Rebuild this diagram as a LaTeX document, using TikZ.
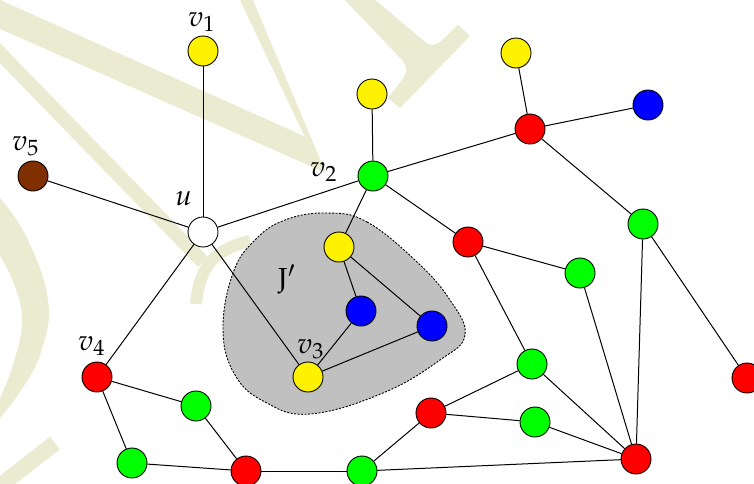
\documentclass[tikz,border=0pt]{standalone}
\usepackage{mathpazo}
\definecolor{wm}{RGB}{235,235,210}
\definecolor{brn}{RGB}{128,48,0}
\definecolor{blobgray}{RGB}{192,192,192}
\begin{document}
\begin{tikzpicture}[x=1pt,y=-1pt,
  vtx/.style={circle,draw=black,line width=0.9pt,minimum size=30pt,inner sep=0pt},
  vy/.style={vtx,fill=yellow},
  vg/.style={vtx,fill=green},
  vr/.style={vtx,fill=red},
  vb/.style={vtx,fill=blue},
  vw/.style={vtx,fill=white},
  vbr/.style={vtx,fill=brn},
  lbl/.style={inner sep=0pt,anchor=base west,font=\fontsize{29}{35}\selectfont},
  edge/.style={line width=1pt,black}]
\useasboundingbox (0,0) rectangle (754,483);
\begin{scope}
\clip (0,0) rectangle (754,483);
% watermark
\fill[wm] (-2,-1) -- (-2,28) -- (326,173) -- (306,137) -- cycle;
\fill[wm] (239,-2) -- (252,-2) -- (326,173) -- (311,150) -- cycle;
\draw[wm,line width=14pt] (-8,45) -- (203,262);
\draw[wm,line width=12pt] (250,241) .. controls (214,249) and (199,268) .. (196,304);
\fill[wm] (343,-2) -- (373,-2) -- (425,42) .. controls (430,46) and (434,46) .. (440,42)
  -- (458,25) -- (470,36) -- (400,108) -- (388,98) -- (402,80) .. controls (408,72) and (407,66) .. (402,60) -- cycle;
\fill[wm] plot[smooth,tension=0.7] coordinates {(-2,196) (26,236) (48,300) (41,352) (20,392) (-2,420)}
  -- plot[smooth,tension=0.7] coordinates {(-2,402) (12,368) (22,322) (14,284) (-2,252)} -- cycle;
\draw[wm,line width=16pt] (-8,492) -- (55,443);
\end{scope}
% J' region
\draw[fill=blobgray,line width=0.9pt,dash pattern=on 2pt off 1.5pt]
  plot[smooth cycle,tension=0.7] coordinates {(327,213) (367,222) (417,262) (450,300) (465,335) (440,360) (383,393) (310,414) (265,402) (235,375) (223,330) (233,273) (255,240) (285,220)};
% vertices
\node[vy] (v1) at (203,51) {};
\node[vbr] (v5) at (33,176) {};
\node[vw] (u) at (203,232) {};
\node[vg] (v2) at (373,176) {};
\node[vy] (y2) at (372,94) {};
\node[vy] (y3) at (516,53) {};
\node[vr] (r1) at (530,129) {};
\node[vb] (b1) at (648,105) {};
\node[vg] (g1) at (643,224) {};
\node[vr] (r2) at (468,242) {};
\node[vg] (g2) at (580,273) {};
\node[vy] (y4) at (339,247) {};
\node[vb] (b2) at (361,311) {};
\node[vb] (b3) at (432,326) {};
\node[vy] (v3) at (308,377) {};
\node[vr] (v4) at (97,377) {};
\node[vg] (g3) at (196,406) {};
\node[vg] (g4) at (132,463) {};
\node[vr] (r3) at (246,471) {};
\node[vg] (g5) at (362,471) {};
\node[vr] (r4) at (431,413) {};
\node[vg] (g6) at (532,364) {};
\node[vg] (g7) at (535,422) {};
\node[vr] (r5) at (636,459) {};
\node[vr] (r6) at (747,378) {};
% edges
\draw[edge] (u) -- (v1);
\draw[edge] (u) -- (v5);
\draw[edge] (u) -- (v2);
\draw[edge] (u) -- (v4);
\draw[edge] (u) -- (v3);
\draw[edge] (v2) -- (y2);
\draw[edge] (v2) -- (r1);
\draw[edge] (v2) -- (r2);
\draw[edge] (v2) -- (y4);
\draw[edge] (r1) -- (y3);
\draw[edge] (r1) -- (b1);
\draw[edge] (r1) -- (g1);
\draw[edge] (g1) -- (r6);
\draw[edge] (g1) -- (r5);
\draw[edge] (r2) -- (g2);
\draw[edge] (r2) -- (g6);
\draw[edge] (g2) -- (r5);
\draw[edge] (y4) -- (b2);
\draw[edge] (y4) -- (b3);
\draw[edge] (b2) -- (v3);
\draw[edge] (v3) -- (b3);
\draw[edge] (v4) -- (g3);
\draw[edge] (v4) -- (g4);
\draw[edge] (g3) -- (r3);
\draw[edge] (g4) -- (r3);
\draw[edge] (r3) -- (g5);
\draw[edge] (g5) -- (r4);
\draw[edge] (g5) -- (r5);
\draw[edge] (r4) -- (g6);
\draw[edge] (r4) -- (g7);
\draw[edge] (g6) -- (r5);
\draw[edge] (g7) -- (r5);
% labels
\node[lbl] (lv1) at (188,26) {$v_1$};
\node[lbl] (lv5) at (12,150) {$v_5$};
\node[lbl] (lu) at (175,205) {$u$};
\node[lbl] (lv2) at (310,176) {$v_2$};
\node[lbl] (lv3) at (297,353) {$v_3$};
\node[lbl] (lv4) at (78,350) {$v_4$};
\node[lbl] (lJ) at (278,288) {$\mathrm{J}'$};
\end{tikzpicture}
\end{document}
